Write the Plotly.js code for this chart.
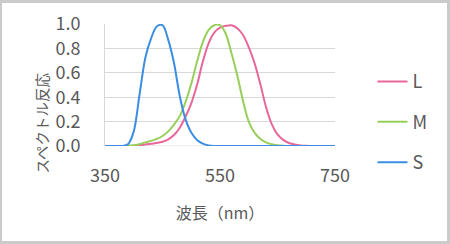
<!DOCTYPE html>
<html>
<head>
<meta charset="utf-8">
<script src="https://cdn.plot.ly/plotly-3.0.1.min.js"></script>
<style>
html,body{margin:0;padding:0;background:#fff;}
#wrap{position:relative;width:450px;height:244px;}
#chart{position:absolute;left:0;top:0;width:450px;height:244px;}
#frame{position:absolute;left:0;top:0;width:450px;height:244px;box-sizing:border-box;border-style:solid;border-color:#cbcbcb;border-width:3px 3px 3px 2px;pointer-events:none;}
</style>
</head>
<body>
<div id="wrap"><div id="chart"></div><div id="frame"></div></div>
<script>
const wavelength = [350,360,370,380,390,400,410,420,430,440,450,460,470,480,490,500,510,520,530,540,550,560,570,580,590,600,610,620,630,640,650,660,670,680,690,700,710,720,730,740,750];
const L = [0,0,0,0,0,0.003,0.006,0.012,0.018,0.025,0.035,0.055,0.09,0.15,0.24,0.35,0.5,0.69,0.84,0.93,0.97,0.985,0.99,0.965,0.91,0.81,0.68,0.51,0.32,0.18,0.095,0.05,0.025,0.012,0.005,0.002,0,0,0,0,0];
const M = [0,0,0,0,0.003,0.007,0.015,0.03,0.042,0.058,0.082,0.12,0.175,0.245,0.36,0.51,0.69,0.85,0.95,0.99,0.99,0.92,0.76,0.58,0.37,0.2,0.11,0.06,0.03,0.015,0.007,0.002,0,0,0,0,0,0,0,0,0];
const S = [0,0,0,0,0.015,0.12,0.42,0.72,0.88,0.98,0.99,0.87,0.68,0.41,0.22,0.11,0.05,0.02,0.005,0,0,0,0,0,0,0,0,0,0,0,0,0,0,0,0,0,0,0,0,0,0];
const seriesNames = ['L','M','S'];
const colors = ['#e9669b','#98cf5a','#3b8ee3'];
const xTicks = [350,550,750];
const yTicks = [0,0.2,0.4,0.6,0.8,1.0];
const yTickText = ['0.0','0.2','0.4','0.6','0.8','1.0'];

const font = 'Noto Sans CJK JP, Noto Sans, sans-serif';
const grey = '#595959';
const data = [L,M,S].map((v,i)=>({
  x: wavelength, y: v, name: seriesNames[i], type:'scatter', mode:'lines',
  line:{color:colors[i], width:2, shape:'spline', smoothing:0.9},
  legendgroup: seriesNames[i], hoverinfo:'skip'
}));

const layout = {
  width:450, height:244,
  margin:{l:105, r:115, t:24, b:98},
  paper_bgcolor:'#fff', plot_bgcolor:'#fff',
  font:{family:font, color:grey},
  showlegend:true,
  legend:{x:1.163, y:0.195, xanchor:'left', yanchor:'middle', traceorder:'grouped', tracegroupgap:14,
          font:{size:18, color:grey, family:font}, bgcolor:'rgba(0,0,0,0)'},
  xaxis:{range:[350,750], tickvals:xTicks, ticktext:xTicks.map(String), showgrid:false, zeroline:false,
         showline:false, ticks:'', tickfont:{size:18, color:grey}, ticklabelstandoff:17,
         title:{text:'波長（nm）', font:{size:16, color:grey}, standoff:21}},
  yaxis:{range:[0,1], tickvals:yTicks, ticktext:yTickText, showgrid:true, gridcolor:'#d9d9d9', gridwidth:1,
         zeroline:false, showline:true, linecolor:'#d9d9d9', linewidth:1, ticks:'',
         tickfont:{size:18, color:grey}, ticklabelstandoff:20},
  annotations:[{text:'スペクトル反応', textangle:-90, xref:'paper', yref:'paper', x:-0.275, y:0.19,
                xanchor:'center', yanchor:'middle', showarrow:false, font:{size:14.5, color:grey, family:font}}],
  shapes:[{type:'line', xref:'paper', yref:'y', x0:0, x1:1, y0:0, y1:0, line:{color:'#d9d9d9', width:1}, layer:'below'}]
};
Plotly.newPlot('chart', data, layout, {staticPlot:true, displayModeBar:false});
</script>
</body>
</html>
